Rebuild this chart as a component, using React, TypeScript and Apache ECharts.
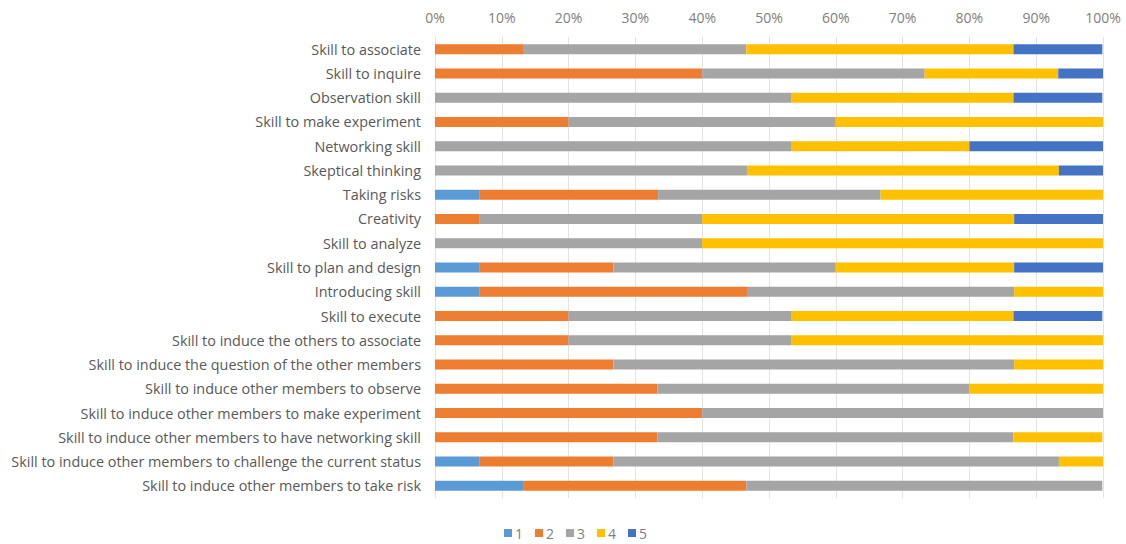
import React, { useEffect, useRef } from "react";
import * as echarts from "echarts";

const categories = [
  "Skill to associate",
  "Skill to inquire",
  "Observation skill",
  "Skill to make experiment",
  "Networking skill",
  "Skeptical thinking",
  "Taking risks",
  "Creativity",
  "Skill to analyze",
  "Skill to plan and design",
  "Introducing skill",
  "Skill to execute",
  "Skill to induce the others to associate",
  "Skill to induce the question of the other members",
  "Skill to induce other members to observe",
  "Skill to induce other members to make experiment",
  "Skill to induce other members to have networking skill",
  "Skill to induce other members to challenge the current status",
  "Skill to induce other members to take risk",
];

const seriesNames = ["1", "2", "3", "4", "5"];

const s1 = [0, 0, 0, 0, 0, 0, 6.7, 0, 0, 6.7, 6.7, 0, 0, 0, 0, 0, 0, 6.7, 13.3];
const s2 = [13.3, 40, 0, 20, 0, 0, 26.7, 6.7, 0, 20, 40, 20, 20, 26.7, 33.3, 40, 33.3, 20, 33.3];
const s3 = [33.3, 33.3, 53.3, 40, 53.3, 46.7, 33.3, 33.3, 40, 33.3, 40, 33.3, 33.3, 60, 46.7, 60, 53.3, 66.7, 53.3];
const s4 = [40, 20, 33.3, 40, 26.7, 46.7, 33.3, 46.7, 60, 26.7, 13.3, 33.3, 46.7, 13.3, 20, 0, 13.3, 6.7, 0];
const s5 = [13.3, 6.7, 13.3, 0, 20, 6.7, 0, 13.3, 0, 13.3, 0, 13.3, 0, 0, 0, 0, 0, 0, 0];

const colors = ["#5B9BD5", "#ED7D31", "#A5A5A5", "#FFC000", "#4472C4"];
const allSeries = [s1, s2, s3, s4, s5];

const FONT = "'Open Sans', 'Liberation Sans', sans-serif";

export default function App() {
  const ref = useRef<HTMLDivElement>(null);
  useEffect(() => {
    if (!ref.current) return;
    const chart = echarts.init(ref.current, undefined, { renderer: "svg" });
    chart.setOption({
      animation: false,
      backgroundColor: "#ffffff",
      textStyle: { fontFamily: FONT },
      grid: { left: 435, right: 23, top: 37, bottom: 46, containLabel: false },
      legend: {
        bottom: -1,
        left: 499,
        itemWidth: 8,
        itemHeight: 8,
        itemGap: 12,
        icon: "rect",
        textStyle: { color: "#7f7f7f", fontSize: 14, fontFamily: FONT, padding: [0, 0, 0, -2] },
        data: seriesNames,
      },
      xAxis: {
        type: "value",
        position: "top",
        min: 0,
        max: 100,
        interval: 10,
        axisLabel: { formatter: "{value}%", color: "#808080", fontSize: 14, margin: 13 },
        axisLine: { show: false },
        axisTick: { show: false },
        splitLine: { show: true, lineStyle: { color: "#e3e3e3", width: 1 } },
      },
      yAxis: {
        type: "category",
        inverse: true,
        data: categories,
        axisLine: { show: true, lineStyle: { color: "#e3e3e3" } },
        axisTick: { show: false },
        axisLabel: { color: "#595959", fontSize: 14.4, margin: 14 },
      },
      series: allSeries.map((d, i) => ({
        name: seriesNames[i],
        type: "bar",
        stack: "total",
        barWidth: 10,
        itemStyle: { color: colors[i] },
        data: d,
      })),
    });
    return () => chart.dispose();
  }, []);
  return (
    <div
      ref={ref}
      style={{ position: "fixed", left: 0, top: 0, width: 1126, height: 544 }}
    />
  );
}
